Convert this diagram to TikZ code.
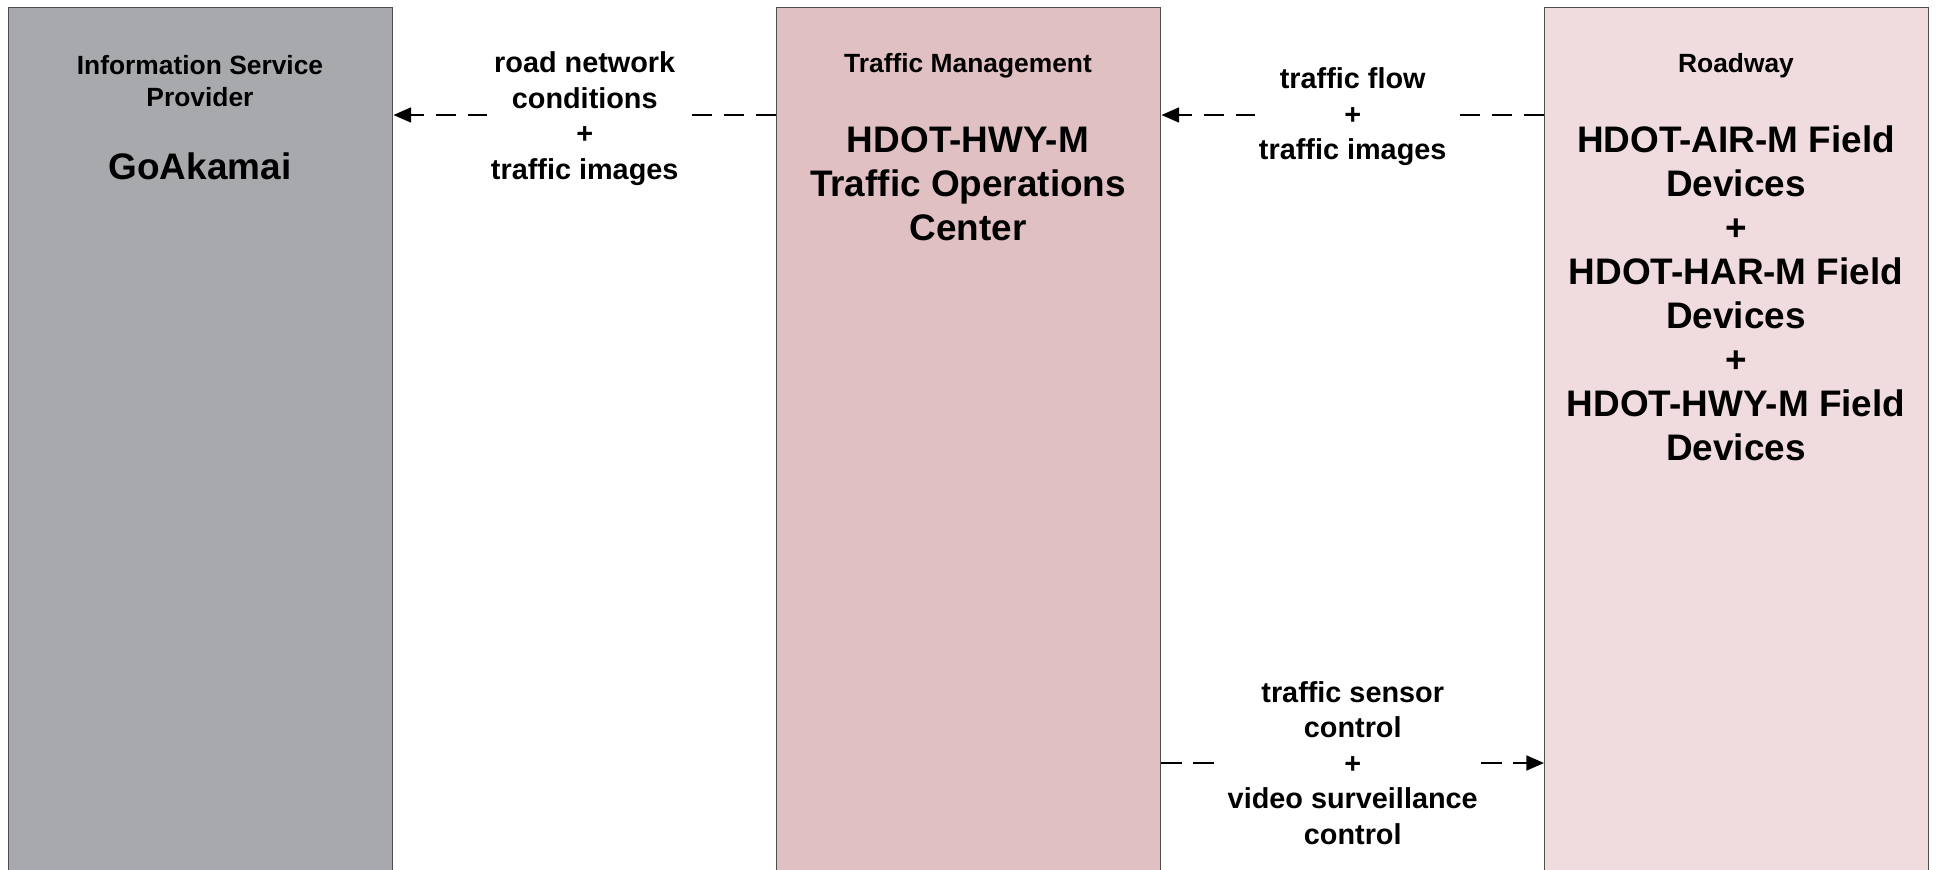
\documentclass[tikz,border=0pt]{standalone}
\usepackage{fontspec}
\setmainfont{Liberation Sans}
\usetikzlibrary{arrows.meta}

\definecolor{ispgray}{HTML}{A7A9AC}
\definecolor{tmrose}{HTML}{E0C0C3}
\definecolor{rdpink}{HTML}{F0DCDF}
\definecolor{edgegray}{HTML}{4D4D4F}

\begin{document}
\begin{tikzpicture}[x=0.01cm, y=-0.01cm,
    entity/.style={draw=edgegray, line width=0.35pt, rectangle, anchor=north west,
        minimum width=3.84cm, minimum height=9cm, inner sep=0pt},
    cat/.style={font=\bfseries\fontsize{7.5}{9.1}\selectfont, align=center},
    title/.style={font=\bfseries\fontsize{10.5}{12.5}\selectfont, align=center},
    lbl/.style={font=\bfseries\fontsize{8.2}{10.1}\selectfont, align=center, fill=white, inner sep=1pt},
    flow/.style={line width=0.7pt, dash pattern=on 5.7pt off 3.4pt, -{Triangle[length=5pt, width=4.2pt]}}]

    \useasboundingbox (0,0) rectangle (1939,870);
    \clip (0,0) rectangle (1939,870);

    \node[entity, fill=ispgray] (isp) at (8,7) {};
    \node[entity, fill=tmrose] (toc) at (776,7) {};
    \node[entity, fill=rdpink] (road) at (1544,7) {};

    \node[cat] (ispcat) at (200,81) {Information Service\\Provider};
    \node[title] (ispname) at (200,166) {GoAkamai};

    \node[cat] (toccat) at (968,66) {Traffic Management};
    \node[title] (tocname) at (968,184) {HDOT-HWY-M\\Traffic Operations\\Center};

    \node[cat] (roadcat) at (1736,66) {Roadway};
    \node[title] (roadname) at (1736,293) {HDOT-AIR-M Field\\Devices\\+\\HDOT-HAR-M Field\\Devices\\+\\HDOT-HWY-M Field\\Devices};

    \draw[flow] (toc.west |- 0,115) -- node[lbl, yshift=-1pt] (rnc) {road network\\conditions\\+\\traffic images} (isp.east |- 0,115);
    \draw[flow] (road.west |- 0,115) -- node[lbl, yshift=-0.5pt] (tfi) {traffic flow\\+\\traffic images} (toc.east |- 0,115);
    \draw[flow] (toc.east |- 0,763) -- node[lbl] (tsc) {traffic sensor\\control\\+\\video surveillance\\control} (road.west |- 0,763);
\end{tikzpicture}
\end{document}
